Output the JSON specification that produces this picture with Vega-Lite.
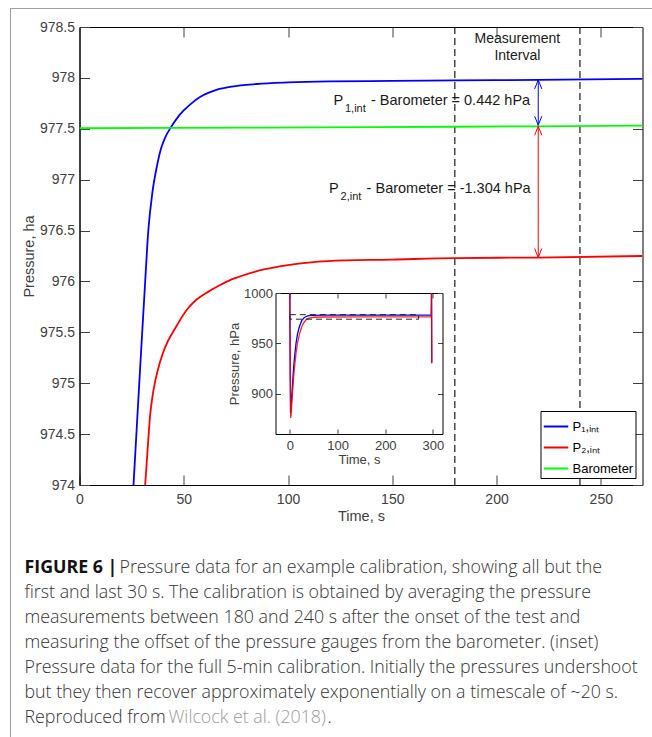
{
  "$schema": "https://vega.github.io/schema/vega-lite/v6.json",
  "padding": {"left": 10, "top": 8, "right": 0, "bottom": 0},
  "background": "white",
  "config": {
    "font": "Liberation Sans",
    "view": {"stroke": null},
    "axis": {"grid": false, "labelFont": "Liberation Sans", "titleFont": "Liberation Sans", "titleFontWeight": "normal", "labelColor": "#404040", "titleColor": "#404040", "tickColor": "#404040", "domainColor": "#000000", "labelFlush": false}
  },
  "datasets": {
    "curves": [
      {"t": 25.9, "p": 974.0, "series": "P1,int"}, {"t": 27.5, "p": 974.58, "series": "P1,int"}, {"t": 29.5, "p": 975.3, "series": "P1,int"}, {"t": 31.5, "p": 976.0, "series": "P1,int"}, {"t": 33, "p": 976.5, "series": "P1,int"}, {"t": 35, "p": 976.88, "series": "P1,int"}, {"t": 37, "p": 977.12, "series": "P1,int"}, {"t": 39, "p": 977.3, "series": "P1,int"}, {"t": 41, "p": 977.41, "series": "P1,int"}, {"t": 44, "p": 977.52, "series": "P1,int"}, {"t": 47, "p": 977.61, "series": "P1,int"}, {"t": 50, "p": 977.68, "series": "P1,int"}, {"t": 54, "p": 977.755, "series": "P1,int"}, {"t": 58, "p": 977.815, "series": "P1,int"}, {"t": 62, "p": 977.855, "series": "P1,int"}, {"t": 66, "p": 977.885, "series": "P1,int"}, {"t": 73, "p": 977.915, "series": "P1,int"}, {"t": 85, "p": 977.94, "series": "P1,int"}, {"t": 100, "p": 977.955, "series": "P1,int"}, {"t": 120, "p": 977.965, "series": "P1,int"}, {"t": 150, "p": 977.97, "series": "P1,int"}, {"t": 180, "p": 977.975, "series": "P1,int"}, {"t": 220, "p": 977.98, "series": "P1,int"}, {"t": 270, "p": 977.99, "series": "P1,int"},
      {"t": 31.5, "p": 974.0, "series": "P2,int"}, {"t": 32.5, "p": 974.3, "series": "P2,int"}, {"t": 33.9, "p": 974.69, "series": "P2,int"}, {"t": 35, "p": 974.87, "series": "P2,int"}, {"t": 36.3, "p": 975.02, "series": "P2,int"}, {"t": 38.5, "p": 975.2, "series": "P2,int"}, {"t": 41, "p": 975.35, "series": "P2,int"}, {"t": 45.9, "p": 975.54, "series": "P2,int"}, {"t": 51.4, "p": 975.72, "series": "P2,int"}, {"t": 56, "p": 975.82, "series": "P2,int"}, {"t": 61.8, "p": 975.9, "series": "P2,int"}, {"t": 67, "p": 975.96, "series": "P2,int"}, {"t": 73, "p": 976.02, "series": "P2,int"}, {"t": 80, "p": 976.07, "series": "P2,int"}, {"t": 89, "p": 976.12, "series": "P2,int"}, {"t": 100, "p": 976.16, "series": "P2,int"}, {"t": 119, "p": 976.2, "series": "P2,int"}, {"t": 150, "p": 976.215, "series": "P2,int"}, {"t": 180, "p": 976.23, "series": "P2,int"}, {"t": 220, "p": 976.235, "series": "P2,int"}, {"t": 270, "p": 976.25, "series": "P2,int"},
      {"t": 0, "p": 977.505, "series": "Barometer"}, {"t": 90, "p": 977.512, "series": "Barometer"}, {"t": 180, "p": 977.52, "series": "Barometer"}, {"t": 270, "p": 977.53, "series": "Barometer"}
    ],
    "inset": [
      {"t": 0, "p": 1000, "series": "P1,int"}, {"t": 0.7, "p": 930, "series": "P1,int"}, {"t": 1.6, "p": 881, "series": "P1,int"}, {"t": 2.5, "p": 884, "series": "P1,int"}, {"t": 4, "p": 897, "series": "P1,int"}, {"t": 6, "p": 912, "series": "P1,int"}, {"t": 8, "p": 926, "series": "P1,int"}, {"t": 10, "p": 937, "series": "P1,int"}, {"t": 13, "p": 950, "series": "P1,int"}, {"t": 16, "p": 959, "series": "P1,int"}, {"t": 20, "p": 966.5, "series": "P1,int"}, {"t": 25, "p": 972.5, "series": "P1,int"}, {"t": 30, "p": 975.5, "series": "P1,int"}, {"t": 35, "p": 976.9, "series": "P1,int"}, {"t": 40, "p": 977.5, "series": "P1,int"}, {"t": 50, "p": 977.85, "series": "P1,int"}, {"t": 70, "p": 977.95, "series": "P1,int"}, {"t": 150, "p": 977.97, "series": "P1,int"}, {"t": 296.5, "p": 977.99, "series": "P1,int"}, {"t": 297, "p": 1000, "series": "P1,int"}, {"t": 297.5, "p": 931, "series": "P1,int"},
      {"t": 0, "p": 1000, "series": "P2,int"}, {"t": 0.8, "p": 925, "series": "P2,int"}, {"t": 1.8, "p": 876, "series": "P2,int"}, {"t": 2.7, "p": 879, "series": "P2,int"}, {"t": 4, "p": 889, "series": "P2,int"}, {"t": 6, "p": 903, "series": "P2,int"}, {"t": 8, "p": 916, "series": "P2,int"}, {"t": 10, "p": 927, "series": "P2,int"}, {"t": 13, "p": 940, "series": "P2,int"}, {"t": 16, "p": 950, "series": "P2,int"}, {"t": 20, "p": 959, "series": "P2,int"}, {"t": 25, "p": 966.5, "series": "P2,int"}, {"t": 30, "p": 971, "series": "P2,int"}, {"t": 35, "p": 973.8, "series": "P2,int"}, {"t": 40, "p": 975, "series": "P2,int"}, {"t": 50, "p": 975.9, "series": "P2,int"}, {"t": 70, "p": 976.15, "series": "P2,int"}, {"t": 150, "p": 976.22, "series": "P2,int"}, {"t": 296.5, "p": 976.24, "series": "P2,int"}, {"t": 297, "p": 1000, "series": "P2,int"}, {"t": 297.5, "p": 930, "series": "P2,int"}
    ],
    "interval": [{"t": 180}, {"t": 240}],
    "arrows": [
      {"t": 220, "from": 977.98, "to": 977.535, "series": "P1,int"},
      {"t": 220, "from": 977.525, "to": 976.235, "series": "P2,int"}
    ],
    "heads": [
      {"t": 220, "p": 977.98, "dir": "up", "series": "P1,int"},
      {"t": 220, "p": 977.535, "dir": "down", "series": "P1,int"},
      {"t": 220, "p": 977.525, "dir": "up", "series": "P2,int"},
      {"t": 220, "p": 976.235, "dir": "down", "series": "P2,int"}
    ],
    "notes": [
      {"t": 121.8, "p": 977.737, "sym": "P", "sub": "1,int", "rest": "- Barometer = 0.442 hPa"},
      {"t": 119.7, "p": 976.869, "sym": "P", "sub": "2,int", "rest": "- Barometer = -1.304 hPa"}
    ],
    "intervalLabel": [
      {"t": 210, "p": 978.385, "label": "Measurement"},
      {"t": 210, "p": 978.212, "label": "Interval"}
    ],
    "zoombox": [{"t0": 0, "t1": 270, "p0": 974, "p1": 978.5}],
    "caption": [
      {"line": 1, "seg": "bold", "text": "FIGURE 6 |"},
      {"line": 1, "seg": "afterbold", "text": "Pressure data for an example calibration, showing all but the"},
      {"line": 2, "seg": "plain", "text": "first and last 30 s. The calibration is obtained by averaging the pressure"},
      {"line": 3, "seg": "plain", "text": "measurements between 180 and 240 s after the onset of the test and"},
      {"line": 4, "seg": "plain", "text": "measuring the offset of the pressure gauges from the barometer. (inset)"},
      {"line": 5, "seg": "plain", "text": "Pressure data for the full 5-min calibration. Initially the pressures undershoot"},
      {"line": 6, "seg": "plain", "text": "but they then recover approximately exponentially on a timescale of ~20 s."},
      {"line": 7, "seg": "plain", "text": "Reproduced from"},
      {"line": 7, "seg": "link", "text": "Wilcock et al. (2018)"},
      {"line": 7, "seg": "end", "text": "."}
    ]
  },
  "spacing": 0,
  "vconcat": [
    {"width": 642, "height": 1, "view": {"stroke": null, "fill": "#a0a0a0"}, "data": {"values": []}, "mark": "point"},
    {
      "spacing": 9.5,
      "hconcat": [
        {"width": 1, "height": 728, "view": {"stroke": null, "fill": "#a0a0a0"}, "data": {"values": []}, "mark": "point"},
        {
          "spacing": 9,
          "vconcat": [
            {"width": 10, "height": 0.01, "data": {"values": []}, "mark": "point"},
            {
              "spacing": 33,
              "resolve": {"scale": {"color": "independent", "shape": "independent"}, "legend": {"color": "independent", "shape": "independent"}},
              "vconcat": [
                {
                  "width": 563,
                  "height": 458,
                  "view": {"stroke": "#000000", "strokeWidth": 1},
                  "layer": [
                    {
                      "layer": [
                        {
                          "data": {"name": "interval"},
                          "mark": {"type": "rule", "strokeDash": [7, 4], "color": "#1a1a1a", "strokeWidth": 1.2},
                          "encoding": {
                            "x": {"field": "t", "type": "quantitative", "scale": {"domain": [0, 270], "nice": false, "zero": false},
                                  "axis": {"orient": "top", "values": [50, 100, 150, 200, 250], "labels": false, "domain": false, "tickSize": -10, "title": null}}
                          }
                        },
                        {
                          "data": {"name": "curves"},
                          "mark": {"type": "line", "strokeWidth": 1.8, "clip": true, "interpolate": "monotone"},
                          "encoding": {
                            "x": {"field": "t", "type": "quantitative", "scale": {"domain": [0, 270], "nice": false, "zero": false},
                                  "axis": {"orient": "bottom", "values": [0, 50, 100, 150, 200, 250], "tickSize": -10, "labelPadding": 17, "labelFontSize": 14, "title": "Time, s", "titleFontSize": 14.5, "titlePadding": 3}},
                            "y": {"field": "p", "type": "quantitative", "scale": {"domain": [974, 978.5], "nice": false, "zero": false},
                                  "axis": {"orient": "left", "values": [974, 974.5, 975, 975.5, 976, 976.5, 977, 977.5, 978, 978.5], "labelExpr": "'' + datum.value", "tickSize": -10, "labelPadding": 15, "labelFontSize": 14, "title": "Pressure, ha", "titleFontSize": 14.5, "titlePadding": 3}},
                            "color": {"field": "series", "type": "nominal",
                                      "scale": {"domain": ["P1,int", "P2,int", "Barometer"], "range": ["#0000ff", "#ff0000", "#00ff00"]},
                                      "legend": {"orient": "bottom-right", "offset": 7, "title": null, "symbolType": "stroke", "symbolStrokeWidth": 2, "symbolSize": 600, "labelFontSize": 13, "labelFont": "Liberation Sans", "labelColor": "#000000", "strokeColor": "#000000", "fillColor": "#ffffff", "padding": 2, "labelOffset": 3, "rowPadding": 0,
                                                 "labelExpr": "datum.label == 'P1,int' ? 'P₁,ᵢₙₜ' : datum.label == 'P2,int' ? 'P₂,ᵢₙₜ' : datum.label"}},
                            "order": {"field": "t", "type": "quantitative"}
                          }
                        },
                        {
                          "data": {"name": "arrows"},
                          "mark": {"type": "rule", "strokeWidth": 1},
                          "encoding": {
                            "x": {"field": "t", "type": "quantitative", "scale": {"domain": [0, 270], "nice": false, "zero": false}, "axis": null},
                            "y": {"field": "from", "type": "quantitative", "scale": {"domain": [974, 978.5], "nice": false, "zero": false},
                                  "axis": {"orient": "right", "values": [974, 974.5, 975, 975.5, 976, 976.5, 977, 977.5, 978, 978.5], "labels": false, "domain": false, "tickSize": -10, "title": null}},
                            "y2": {"field": "to"},
                            "color": {"field": "series", "type": "nominal"}
                          }
                        },
                        {
                          "data": {"name": "heads"},
                          "mark": {"type": "point", "filled": false, "strokeWidth": 1, "opacity": 1, "size": 324},
                          "encoding": {
                            "x": {"field": "t", "type": "quantitative", "scale": {"domain": [0, 270], "nice": false, "zero": false}, "axis": null},
                            "y": {"field": "p", "type": "quantitative", "scale": {"domain": [974, 978.5], "nice": false, "zero": false}, "axis": null},
                            "shape": {"field": "dir", "type": "nominal", "scale": {"domain": ["up", "down"], "range": ["M-0.4,1L0,0L0.4,1", "M-0.4,-1L0,0L0.4,-1"]}, "legend": null},
                            "color": {"field": "series", "type": "nominal"}
                          }
                        },
                        {
                          "data": {"name": "notes"},
                          "mark": {"type": "text", "align": "left", "baseline": "alphabetic", "fontSize": 14.5, "color": "#1a1a1a"},
                          "encoding": {
                            "x": {"field": "t", "type": "quantitative", "scale": {"domain": [0, 270], "nice": false, "zero": false}, "axis": null},
                            "y": {"field": "p", "type": "quantitative", "scale": {"domain": [974, 978.5], "nice": false, "zero": false}, "axis": null},
                            "text": {"field": "sym"}
                          }
                        },
                        {
                          "data": {"name": "notes"},
                          "mark": {"type": "text", "align": "left", "baseline": "alphabetic", "fontSize": 11, "dx": 11.5, "dy": 7, "color": "#1a1a1a"},
                          "encoding": {
                            "x": {"field": "t", "type": "quantitative", "scale": {"domain": [0, 270], "nice": false, "zero": false}, "axis": null},
                            "y": {"field": "p", "type": "quantitative", "scale": {"domain": [974, 978.5], "nice": false, "zero": false}, "axis": null},
                            "text": {"field": "sub"}
                          }
                        },
                        {
                          "data": {"name": "notes"},
                          "mark": {"type": "text", "align": "left", "baseline": "alphabetic", "fontSize": 14.5, "dx": 37.5, "color": "#1a1a1a"},
                          "encoding": {
                            "x": {"field": "t", "type": "quantitative", "scale": {"domain": [0, 270], "nice": false, "zero": false}, "axis": null},
                            "y": {"field": "p", "type": "quantitative", "scale": {"domain": [974, 978.5], "nice": false, "zero": false}, "axis": null},
                            "text": {"field": "rest"}
                          }
                        },
                        {
                          "data": {"name": "intervalLabel"},
                          "mark": {"type": "text", "align": "center", "baseline": "middle", "fontSize": 14, "color": "#1a1a1a"},
                          "encoding": {
                            "x": {"field": "t", "type": "quantitative", "scale": {"domain": [0, 270], "nice": false, "zero": false}, "axis": null},
                            "y": {"field": "p", "type": "quantitative", "scale": {"domain": [974, 978.5], "nice": false, "zero": false}, "axis": null},
                            "text": {"field": "label"}
                          }
                        }
                      ],
                      "resolve": {"axis": {"x": "independent", "y": "independent"}}
                    },
                    {
                      "layer": [
                        {
                          "data": {"name": "inset"},
                          "transform": [{"filter": "datum.series == 'P1,int'"}],
                          "mark": {"type": "line", "color": "#0000ff", "strokeWidth": 1.3},
                          "encoding": {
                            "x": {"field": "t", "type": "quantitative", "scale": {"domain": [-30, 320], "range": [196, 363], "nice": false, "zero": false},
                                  "axis": {"orient": "bottom", "offset": -51, "values": [0, 100, 200, 300], "tickSize": -5, "labelPadding": 10, "labelFontSize": 13, "title": "Time, s", "titleFontSize": 13, "titlePadding": 1}},
                            "y": {"field": "p", "type": "quantitative", "scale": {"domain": [860, 1000], "range": [407, 266], "nice": false, "zero": false},
                                  "axis": {"orient": "left", "offset": -196, "values": [900, 950, 1000], "format": "d", "tickSize": -5, "labelPadding": 8, "labelFontSize": 13, "title": "Pressure, hPa", "titleFontSize": 13, "titlePadding": 2}},
                            "order": {"field": "t", "type": "quantitative"}
                          }
                        },
                        {
                          "data": {"name": "inset"},
                          "transform": [{"filter": "datum.series == 'P2,int'"}],
                          "mark": {"type": "line", "color": "#ff0000", "strokeWidth": 1.3, "opacity": 0.85},
                          "encoding": {
                            "x": {"field": "t", "type": "quantitative", "scale": {"domain": [-30, 320], "range": [196, 363], "nice": false, "zero": false},
                                  "axis": {"orient": "top", "offset": -266, "values": [0, 100, 200, 300], "labels": false, "tickSize": -5, "title": null}},
                            "y": {"field": "p", "type": "quantitative", "scale": {"domain": [860, 1000], "range": [407, 266], "nice": false, "zero": false},
                                  "axis": {"orient": "right", "offset": -200, "values": [900, 950, 1000], "labels": false, "tickSize": -5, "title": null}},
                            "order": {"field": "t", "type": "quantitative"}
                          }
                        },
                        {
                          "data": {"name": "zoombox"},
                          "mark": {"type": "rect", "fillOpacity": 0, "stroke": "#222222", "strokeDash": [6, 4], "strokeWidth": 1},
                          "encoding": {
                            "x": {"field": "t0", "type": "quantitative", "scale": {"domain": [-30, 320], "range": [196, 363], "nice": false, "zero": false}, "axis": null},
                            "x2": {"field": "t1"},
                            "y": {"field": "p0", "type": "quantitative", "scale": {"domain": [860, 1000], "range": [407, 266], "nice": false, "zero": false}, "axis": null},
                            "y2": {"field": "p1"}
                          }
                        }
                      ],
                      "resolve": {"axis": {"x": "independent", "y": "independent"}}
                    }
                  ],
                  "resolve": {"scale": {"x": "independent", "y": "independent"}, "axis": {"x": "independent", "y": "independent"}}
                },
                {
                  "width": 560,
                  "height": 174,
                  "data": {"name": "caption"},
                  "encoding": {
                    "y": {"field": "line", "type": "ordinal", "scale": {"type": "band", "paddingInner": 0, "paddingOuter": 0}, "axis": null},
                    "x": {"datum": 0, "type": "quantitative", "scale": {"domain": [0, 1]}, "axis": null}
                  },
                  "layer": [
                    {"transform": [{"filter": "datum.seg == 'plain'"}], "mark": {"type": "text", "align": "left", "baseline": "middle", "font": "Open Sans", "fontSize": 17.8, "fontWeight": 300, "color": "#333333", "dx": -55}, "encoding": {"text": {"field": "text"}}},
                    {"transform": [{"filter": "datum.seg == 'bold'"}], "mark": {"type": "text", "align": "left", "baseline": "middle", "font": "Open Sans", "fontSize": 17.8, "fontWeight": "bold", "color": "#111111", "dx": -55}, "encoding": {"text": {"field": "text"}}},
                    {"transform": [{"filter": "datum.seg == 'afterbold'"}], "mark": {"type": "text", "align": "left", "baseline": "middle", "font": "Open Sans", "fontSize": 17.8, "fontWeight": 300, "color": "#333333", "dx": 40}, "encoding": {"text": {"field": "text"}}},
                    {"transform": [{"filter": "datum.seg == 'link'"}], "mark": {"type": "text", "align": "left", "baseline": "middle", "font": "Open Sans", "fontSize": 17.8, "fontWeight": 300, "color": "#9a9a9a", "dx": 89}, "encoding": {"text": {"field": "text"}}},
                    {"transform": [{"filter": "datum.seg == 'end'"}], "mark": {"type": "text", "align": "left", "baseline": "middle", "font": "Open Sans", "fontSize": 17.8, "fontWeight": 300, "color": "#333333", "dx": 248}, "encoding": {"text": {"field": "text"}}}
                  ]
                }
              ]
            }
          ]
        }
      ]
    }
  ]
}
